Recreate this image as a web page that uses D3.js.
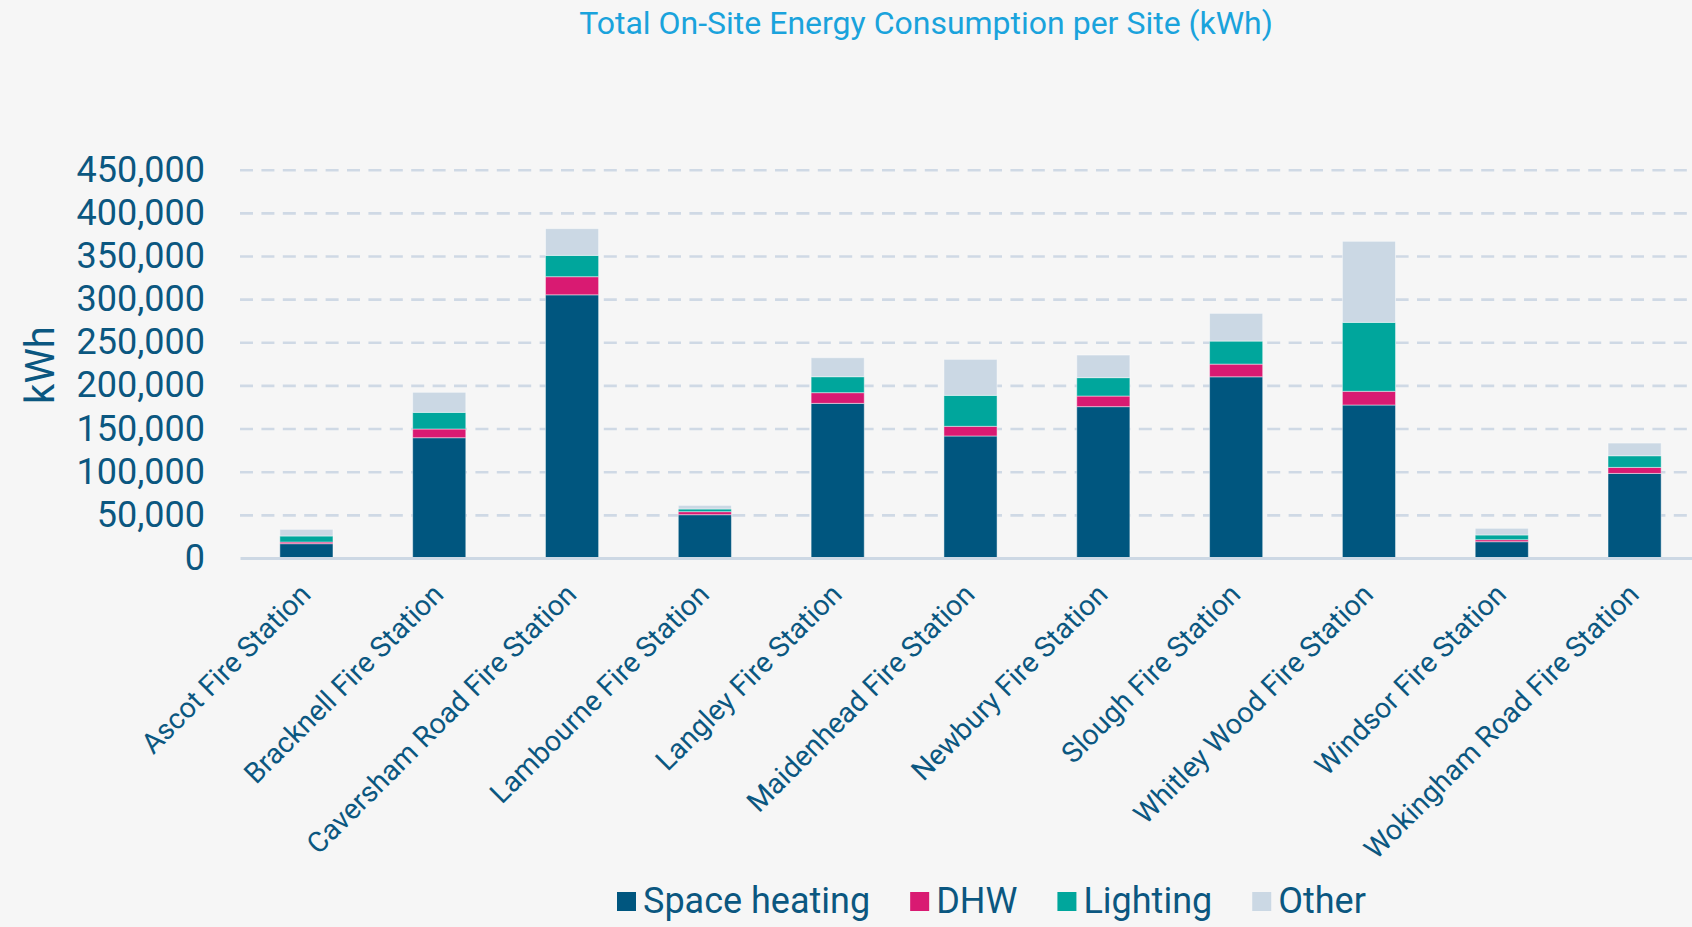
<!DOCTYPE html>
<html>
<head>
<meta charset="utf-8">
<script src="https://cdn.jsdelivr.net/npm/d3@7"></script>
<style>
  body { margin: 0; background: #f6f6f6; }
  svg { display: block; font-family: Roboto, "Noto Sans", sans-serif; }
</style>
</head>
<body>
<div id="chart"></div>
<script>
var sites = ["Ascot Fire Station", "Bracknell Fire Station", "Caversham Road Fire Station",
  "Lambourne Fire Station", "Langley Fire Station", "Maidenhead Fire Station",
  "Newbury Fire Station", "Slough Fire Station", "Whitley Wood Fire Station",
  "Windsor Fire Station", "Wokingham Road Fire Station"];

var seriesNames = ["Space heating", "DHW", "Lighting", "Other"];
var spaceHeating = [16600, 139400, 305000, 50200, 179200, 141400, 175400, 210000, 177300, 18900, 98000];
var dhw = [1900, 10100, 21000, 3500, 12400, 11200, 12300, 14700, 15900, 2300, 7000];
var lighting = [7000, 19300, 24700, 3100, 18500, 35900, 21300, 26700, 79900, 5500, 13500];
var other = [7700, 23200, 31000, 4200, 22000, 41700, 26200, 32100, 93900, 7700, 14700];
var yTicks = [0, 50000, 100000, 150000, 200000, 250000, 300000, 350000, 400000, 450000];

var colors = ["#00567f", "#d91a72", "#00a69c", "#cbd8e4"];

var svgWidth = 1692;
var svgHeight = 927;
var margin = { top: 169.7, left: 240, bottom: 369, right: -9 };
var width = svgWidth - margin.left - margin.right;
var height = svgHeight - margin.top - margin.bottom;

var rows = sites.map(function(s, i) {
  return { site: s, "Space heating": spaceHeating[i], "DHW": dhw[i], "Lighting": lighting[i], "Other": other[i] };
});

var svg = d3.select("#chart").append("svg")
  .attr("width", svgWidth)
  .attr("height", svgHeight);

svg.append("rect").attr("width", svgWidth).attr("height", svgHeight).attr("fill", "#f6f6f6");

svg.append("text")
  .attr("x", 926)
  .attr("y", 34)
  .attr("text-anchor", "middle")
  .attr("fill", "#1aa3dc")
  .style("font-size", "32px")
  .text("Total On-Site Energy Consumption per Site (kWh)");

var chartGroup = svg.append("g")
  .attr("transform", "translate(" + margin.left + "," + margin.top + ")");

var x = d3.scaleBand()
  .domain(sites)
  .range([0, width])
  .paddingInner(0.6)
  .paddingOuter(0.3);

var y = d3.scaleLinear()
  .domain([0, 450000])
  .range([height, 0]);

// dashed gridlines
var grid = chartGroup.append("g")
  .call(d3.axisRight(y).tickValues(yTicks.slice(1)).tickSize(width).tickFormat(""));
grid.select(".domain").remove();
grid.selectAll("line")
  .attr("stroke", "#cfd9e5")
  .attr("stroke-width", 2.6)
  .attr("stroke-dasharray", "13,8.4");

// y axis labels
var yAxis = chartGroup.append("g")
  .call(d3.axisLeft(y).tickValues(yTicks).tickSize(0).tickPadding(35).tickFormat(d3.format(",")));
yAxis.select(".domain").remove();
yAxis.selectAll("text")
  .attr("fill", "#0b5780")
  .style("font-size", "36px")
  .style("font-family", "Roboto, sans-serif");

svg.append("text")
  .attr("transform", "translate(54,365) rotate(-90)")
  .attr("text-anchor", "middle")
  .attr("fill", "#0b5780")
  .style("font-size", "40px")
  .text("kWh");

var stack = d3.stack().keys(seriesNames);
var stacked = stack(rows);

chartGroup.selectAll(".series")
  .data(stacked)
  .enter()
  .append("g")
  .attr("class", "series")
  .attr("fill", function(d, i) { return colors[i]; })
  .selectAll("rect")
  .data(function(d) { return d; })
  .enter()
  .append("rect")
  .attr("x", function(d) { return x(d.data.site); })
  .attr("y", function(d) { return y(d[1]); })
  .attr("width", x.bandwidth())
  .attr("height", function(d) { return y(d[0]) - y(d[1]); })
  .attr("stroke", "rgba(255,255,255,0.45)")
  .attr("stroke-width", 1);

// x axis
var xAxis = chartGroup.append("g")
  .attr("transform", "translate(0," + height + ")")
  .call(d3.axisBottom(x).tickSize(0).tickFormat(function(d) { return d; }));
xAxis.select(".domain")
  .attr("stroke", "#cdd8e4")
  .attr("stroke-width", 3);
xAxis.selectAll("text")
  .attr("fill", "#0b5780")
  .style("font-size", "28.5px")
  .style("font-family", "Roboto, sans-serif")
  .attr("text-anchor", "end")
  .attr("dy", 0)
  .attr("y", 0)
  .attr("transform", "translate(6,38) rotate(-45)");

// legend
var legend = svg.append("g").attr("transform", "translate(617,892)");
var lx = 0;
seriesNames.forEach(function(name, i) {
  var item = legend.append("g").attr("transform", "translate(" + lx + ",0)");
  item.append("rect").attr("width", 19).attr("height", 19).attr("fill", colors[i]);
  var t = item.append("text")
    .attr("x", 26)
    .attr("y", 21)
    .attr("fill", "#0b5780")
    .style("font-size", "36px")
    .text(name);
  lx += 26 + t.node().getComputedTextLength() + 40;
});
</script>
</body>
</html>
